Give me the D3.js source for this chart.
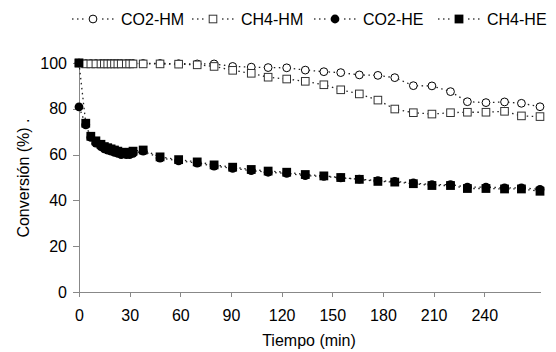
<!DOCTYPE html>
<meta charset="utf-8">

<head>
    <title>Conversion vs tiempo</title>
    <script src="https://d3js.org/d3.v7.min.js"></script>
    <style>
        body {
            margin: 0;
            background: #fff;
        }

        svg text {
            font-family: "Liberation Sans", Arial, sans-serif;
            fill: #000;
        }

        .axis path,
        .axis line {
            stroke: #888;
            shape-rendering: crispEdges;
        }
    </style>
</head>

<body>
    <svg width="556" height="352"></svg>
    <script>

        // tiempo (min)
        var tiempo = [0, 4, 7, 10, 13, 15, 17, 19, 21, 23, 25, 28, 30, 32,
            38, 48, 59, 70, 80, 91, 102, 112, 123, 134, 145, 155, 166,
            177, 187, 198, 209, 220, 230, 241, 252, 262, 273];

        var co2HM = [100, 99.8, 99.8, 99.8, 99.8, 99.8, 99.8, 99.8, 99.8, 99.8, 99.8, 99.8, 99.8, 99.8,
            99.8, 99.8, 99.7, 99.6, 99.6, 98.5, 98.2, 98, 97.9, 96.9, 96.2, 95.8, 94.8,
            94.6, 93.6, 90.1, 90, 87.5, 83.1, 82.7, 83, 82.4, 80.9];

        var ch4HM = [100, 99.6, 99.6, 99.6, 99.6, 99.6, 99.6, 99.6, 99.6, 99.6, 99.6, 99.6, 99.6, 99.6,
            99.6, 99.6, 99.5, 99.2, 98.5, 96.8, 95.5, 93.8, 93, 92, 90.5, 88.3, 86.5,
            83.8, 79.9, 78.3, 77.7, 78.3, 78.5, 78.5, 78.9, 76.9, 76.6];

        var co2HE = [80.8, 73, 67.5, 65, 63.5, 62.5, 62, 61.5, 61, 60.5, 60, 60, 60, 60.5,
            61.5, 58.5, 57.3, 56.3, 55, 54, 53, 52.3, 51.8, 50.8, 50.5, 49.8, 49.3,
            48.6, 48.3, 47.6, 46.9, 46.9, 45.8, 45.8, 45.5, 45.5, 44.8];

        var ch4HE = [100, 73.7, 68, 66, 64.5, 63.5, 63, 62.5, 62, 61.5, 61, 61, 61, 61.5,
            62, 59, 57.8, 56.8, 55.5, 54.5, 53.5, 52.8, 52.3, 51.3, 50.7, 50, 49.2,
            48.3, 48, 47.3, 46.5, 46.5, 45.2, 45.2, 45, 45, 44];

        var xTicks = [0, 30, 60, 90, 120, 150, 180, 210, 240];
        var yTicks = [0, 20, 40, 60, 80, 100];

        var series = [
            { name: "CO2-HM", values: co2HM, shape: "circle", filled: false },
            { name: "CH4-HM", values: ch4HM, shape: "square", filled: false },
            { name: "CO2-HE", values: co2HE, shape: "circle", filled: true },
            { name: "CH4-HE", values: ch4HE, shape: "square", filled: true }
        ];

        var svg = d3.select("svg");

        var x = d3.scaleLinear().domain([0, 273]).range([79, 540]);
        var y = d3.scaleLinear().domain([0, 100]).range([292, 63]);

        // axes
        svg.append("g")
            .attr("class", "axis")
            .attr("transform", "translate(0,292)")
            .call(d3.axisBottom(x).tickValues(xTicks).tickSize(5).tickPadding(13).tickSizeOuter(0))
            .call(function (g) { g.selectAll("text").style("font-size", "16px"); })
            .call(function (g) {
                g.select(".domain").attr("d", "M73,0.5H541");
            });

        svg.append("g")
            .attr("class", "axis")
            .attr("transform", "translate(79,0)")
            .call(d3.axisLeft(y).tickValues(yTicks).tickSize(6).tickPadding(6).tickSizeOuter(0))
            .call(function (g) { g.selectAll("text").style("font-size", "16px"); });

        svg.append("text")
            .attr("x", 309)
            .attr("y", 346)
            .attr("text-anchor", "middle")
            .style("font-size", "16px")
            .text("Tiempo (min)");

        svg.append("text")
            .attr("transform", "translate(29,178) rotate(-90)")
            .attr("text-anchor", "middle")
            .style("font-size", "16px")
            .text("Conversión (%) .");

        var line = d3.line()
            .x(function (d, i) { return x(tiempo[i]); })
            .y(function (d) { return y(d); });

        function marker(sel, s) {
            if (s.shape === "circle") {
                sel.append("circle")
                    .attr("r", s.filled ? 4.4 : 3.9)
                    .attr("fill", s.filled ? "#000" : "#fff")
                    .attr("stroke", s.filled ? "none" : "#000")
                    .attr("stroke-width", 1);
            } else {
                var w = s.filled ? 8.8 : 7.6;
                sel.append("rect")
                    .attr("x", -w / 2)
                    .attr("y", -w / 2)
                    .attr("width", w)
                    .attr("height", w)
                    .attr("fill", s.filled ? "#000" : "#fff")
                    .attr("stroke", s.filled ? "none" : "#333")
                    .attr("stroke-width", 1);
            }
        }

        series.forEach(function (s) {
            var g = svg.append("g");

            g.append("path")
                .attr("d", line(s.values))
                .attr("fill", "none")
                .attr("stroke", "#222")
                .attr("stroke-width", 1.3)
                .attr("stroke-dasharray", "1.5,3.5");

            g.selectAll("g.pt")
                .data(s.values)
                .enter().append("g")
                .attr("class", "pt")
                .attr("transform", function (d, i) { return "translate(" + x(tiempo[i]) + "," + y(d) + ")"; })
                .each(function () { marker(d3.select(this), s); });
        });

        // legend
        var legX = [72, 192, 314, 438];
        var leg = svg.append("g").attr("transform", "translate(0,19)");

        series.forEach(function (s, i) {
            var g = leg.append("g").attr("transform", "translate(" + legX[i] + ",0)");
            g.append("line")
                .attr("x1", 0).attr("x2", 42)
                .attr("stroke", "#444")
                .attr("stroke-width", 1.3)
                .attr("stroke-dasharray", "1.5,3.5");
            var m = g.append("g").attr("transform", "translate(21,0)");
            m.append("rect").attr("x", -6).attr("y", -6).attr("width", 12).attr("height", 12).attr("fill", "#fff");
            marker(m, s);
            g.append("text")
                .attr("x", 49)
                .attr("y", 6)
                .style("font-size", "16px")
                .text(s.name);
        });

    </script>
</body>

</html>
